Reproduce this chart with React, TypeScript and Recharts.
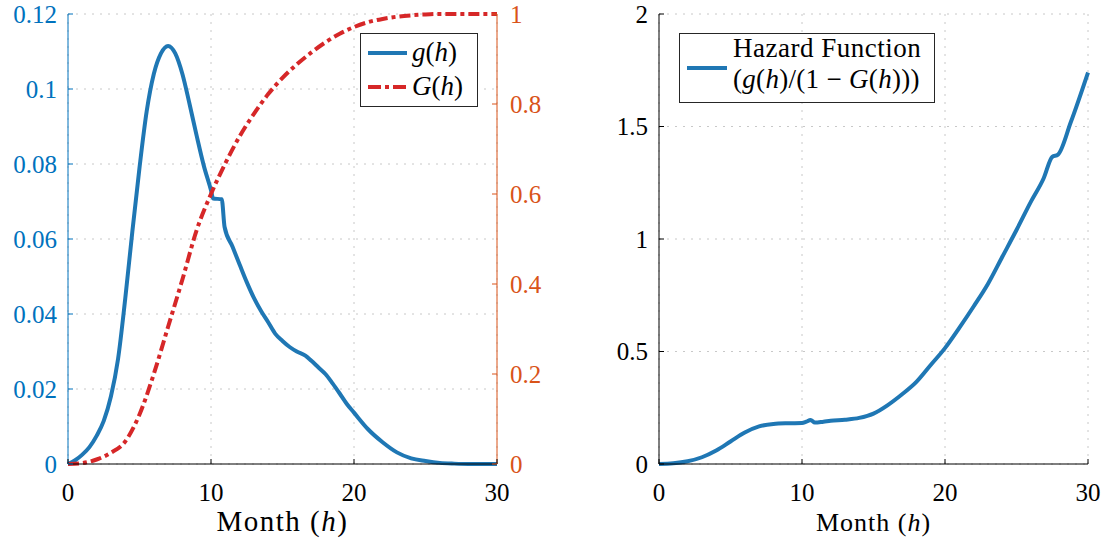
import React from 'react'
import { LineChart, Line, XAxis, YAxis, CartesianGrid, Legend } from 'recharts'

// g(h) — density
const gH = [0, 0.5, 1, 1.5, 2, 2.5, 3, 3.5, 4, 4.5, 5, 5.5, 6, 6.5, 7, 7.5, 8, 8.5, 9, 9.5, 10, 10.15, 10.75, 10.95, 11.5, 12, 12.5, 13, 13.5, 14, 14.5, 15, 15.5, 16, 16.6, 17, 17.5, 18, 18.5, 19, 19.5, 20, 21, 22, 23, 24, 25, 26, 27, 28, 30]
const gVal = [0, 0.001, 0.0025, 0.0045, 0.0075, 0.0115, 0.018, 0.028, 0.044, 0.062, 0.079, 0.094, 0.104, 0.1095, 0.1115, 0.1095, 0.104, 0.096, 0.0875, 0.0795, 0.073, 0.0708, 0.0706, 0.0632, 0.058, 0.0532, 0.0485, 0.0443, 0.0408, 0.0378, 0.0347, 0.0328, 0.0312, 0.03, 0.0289, 0.0276, 0.0258, 0.024, 0.0215, 0.0188, 0.016, 0.0137, 0.0092, 0.0058, 0.0031, 0.0015, 0.0008, 0.0003, 0.0001, 0, 0]

// G(h) — cumulative, right (orange) axis
const cdfH = [0, 1, 2, 3, 4, 5, 6, 7, 8, 9, 10, 11, 12, 13, 14, 15, 16, 17, 18, 19, 20, 21, 22, 23, 24, 25, 26, 30]
const cdfVal = [0, 0.002, 0.01, 0.025, 0.05, 0.11, 0.2, 0.305, 0.41, 0.52, 0.6, 0.668, 0.728, 0.778, 0.822, 0.858, 0.888, 0.914, 0.937, 0.956, 0.971, 0.982, 0.989, 0.994, 0.997, 0.999, 1, 1]

// hazard g/(1-G), right panel
const hazH = [0, 1, 2, 3, 4, 5, 6, 7, 8, 9, 10, 10.3, 10.6, 10.9, 11.5, 12, 13, 14, 15, 16, 17, 18, 19, 20, 21, 22, 23, 24, 25, 26, 26.9, 27.5, 27.9, 28.8, 30]
const hazVal = [0, 0.003, 0.012, 0.03, 0.06, 0.1, 0.14, 0.167, 0.178, 0.181, 0.182, 0.188, 0.196, 0.184, 0.188, 0.192, 0.197, 0.205, 0.224, 0.262, 0.31, 0.365, 0.44, 0.515, 0.605, 0.7, 0.8, 0.92, 1.04, 1.165, 1.27, 1.365, 1.375, 1.52, 1.74]

const xTicks = [0, 10, 20, 30]
const gTicks = [0, 0.02, 0.04, 0.06, 0.08, 0.1, 0.12]
const cdfTicks = [0, 0.2, 0.4, 0.6, 0.8, 1]
const hazTicks = [0, 0.5, 1, 1.5, 2]

const FONT = '"Liberation Serif", "DejaVu Serif", serif'
const BLUE = '#1f77b4'
const RED = '#d62728'
const AX_BLUE = '#0072bd'
const AX_ORANGE = '#d95319'
const TICK_FS = 25

const gData = gH.map((h, i) => ({ h, v: gVal[i] }))
const cdfData = cdfH.map((h, i) => ({ h, v: cdfVal[i] }))
const hazData = hazH.map((h, i) => ({ h, v: hazVal[i] }))

type Side = 'left' | 'right' | 'bottom' | 'top'

const serif = { fontFamily: FONT }

function makeTick(side: Side, color: string, stroke: string, showText = true) {
  return (props: any) => {
    const { x, y, payload } = props
    const label = String(payload.value)
    let line = null
    let txt = null
    if (side === 'bottom') {
      line = <line x1={x} x2={x} y1={y} y2={y - 5} stroke={stroke} />
      if (showText) txt = <text x={x} y={y + 37} textAnchor="middle" style={serif}>{label}</text>
    } else if (side === 'top') {
      line = <line x1={x} x2={x} y1={y} y2={y + 5} stroke={stroke} />
    } else if (side === 'left') {
      line = <line x1={x} x2={x + 5} y1={y} y2={y} stroke={stroke} />
      if (showText) txt = <text x={x - 11} y={y + 8.5} textAnchor="end" style={serif}>{label}</text>
    } else {
      line = <line x1={x} x2={x - 5} y1={y} y2={y} stroke={stroke} />
      if (showText) txt = <text x={x + 13} y={y + 8.5} textAnchor="start" style={serif}>{label}</text>
    }
    return (
      <g fill={color} fontSize={TICK_FS}>
        {line}
        {txt}
      </g>
    )
  }
}

function monthLabel(size: number, spacing: number) {
  return (props: any) => {
    const vb = props.viewBox
    return (
      <text
        x={vb.x + vb.width / 2}
        y={vb.y + 67}
        textAnchor="middle"
        fontSize={size}
        style={{ ...serif, letterSpacing: spacing }}
        fill="#000"
      >
        Month (<tspan fontStyle="italic">h</tspan>)
      </text>
    )
  }
}

function LeftLegend() {
  return (
    <svg width={118} height={74} style={{ display: 'block' }}>
      <rect x={0.5} y={0.5} width={117} height={73} fill="#fff" stroke="#262626" />
      <line x1={8} x2={47} y1={20} y2={20} stroke={BLUE} strokeWidth={4} />
      <text x={52} y={28} fontSize={27} style={serif} fill="#000">
        <tspan fontStyle="italic">g</tspan>(<tspan fontStyle="italic">h</tspan>)
      </text>
      <line x1={8} x2={47} y1={54} y2={54} stroke={RED} strokeWidth={4} strokeDasharray="13 4 4 4" />
      <text x={52} y={62} fontSize={27} style={serif} fill="#000">
        <tspan fontStyle="italic">G</tspan>(<tspan fontStyle="italic">h</tspan>)
      </text>
    </svg>
  )
}

function RightLegend() {
  return (
    <svg width={256} height={70} style={{ display: 'block' }}>
      <rect x={0.5} y={0.5} width={255} height={69} fill="#fff" stroke="#262626" />
      <line x1={8} x2={48} y1={35} y2={35} stroke={BLUE} strokeWidth={4} />
      <text x={54} y={24} fontSize={27} style={{ ...serif, letterSpacing: 0.5 }} fill="#000">Hazard Function</text>
      <text x={54} y={55} fontSize={27} style={{ ...serif, letterSpacing: 0.3 }} fill="#000">
        (<tspan fontStyle="italic">g</tspan>(<tspan fontStyle="italic">h</tspan>)/(1 − <tspan fontStyle="italic">G</tspan>(<tspan fontStyle="italic">h</tspan>)))
      </text>
    </svg>
  )
}

export default function App() {
  return (
    <div style={{ position: 'absolute', left: 0, top: 0, width: 1109, height: 542, background: '#fff', fontFamily: FONT }}>
      <div style={{ position: 'absolute', left: 0, top: 0 }}>
        <LineChart width={557} height={542} margin={{ top: 14, right: 0, bottom: 0, left: 0 }}>
          <CartesianGrid yAxisId="left" stroke="#c8c8c8" strokeDasharray="2 6" />
          <XAxis
            dataKey="h"
            type="number"
            domain={[0, 30]}
            ticks={xTicks}
            interval={0}
            height={78}
            tickSize={0}
            tickMargin={0}
            axisLine={{ stroke: '#000' }}
            tick={makeTick('bottom', '#000', '#000')}
            label={monthLabel(29, 1.5)}
          />
          <XAxis
            xAxisId="top"
            orientation="top"
            dataKey="h"
            type="number"
            domain={[0, 30]}
            ticks={xTicks}
            interval={0}
            height={0}
            tickSize={0}
            tickMargin={0}
            axisLine={{ stroke: '#000' }}
            tick={makeTick('top', '#000', '#000', false)}
          />
          <YAxis
            yAxisId="left"
            type="number"
            domain={[0, 0.12]}
            ticks={gTicks}
            interval={0}
            width={68}
            tickSize={0}
            tickMargin={0}
            axisLine={{ stroke: AX_BLUE }}
            tick={makeTick('left', AX_BLUE, AX_BLUE)}
          />
          <YAxis
            yAxisId="right"
            orientation="right"
            type="number"
            domain={[0, 1]}
            ticks={cdfTicks}
            interval={0}
            width={60}
            tickSize={0}
            tickMargin={0}
            axisLine={{ stroke: AX_ORANGE }}
            tick={makeTick('right', AX_ORANGE, AX_ORANGE)}
          />
          <Line
            yAxisId="left"
            data={gData}
            dataKey="v"
            name="g(h)"
            type="monotone"
            stroke={BLUE}
            strokeWidth={4}
            dot={false}
            isAnimationActive={false}
          />
          <Line
            yAxisId="right"
            data={cdfData}
            dataKey="v"
            name="G(h)"
            type="monotone"
            stroke={RED}
            strokeWidth={4}
            strokeDasharray="11 4 4 4"
            dot={false}
            isAnimationActive={false}
          />
          <Legend
            layout="vertical"
            align="center"
            verticalAlign="middle"
            wrapperStyle={{ left: 360, top: 33, width: 118, height: 74 }}
            content={() => <LeftLegend />}
          />
        </LineChart>
      </div>
      <div style={{ position: 'absolute', left: 560, top: 0 }}>
        <LineChart width={549} height={542} margin={{ top: 14, right: 21, bottom: 0, left: 0 }}>
          <CartesianGrid yAxisId="haz" stroke="#c8c8c8" strokeDasharray="2 6" />
          <XAxis
            dataKey="h"
            type="number"
            domain={[0, 30]}
            ticks={xTicks}
            interval={0}
            height={78}
            tickSize={0}
            tickMargin={0}
            axisLine={{ stroke: '#000' }}
            tick={makeTick('bottom', '#000', '#000')}
            label={monthLabel(26, 1)}
          />
          <XAxis
            xAxisId="top"
            orientation="top"
            dataKey="h"
            type="number"
            domain={[0, 30]}
            ticks={xTicks}
            interval={0}
            height={0}
            tickSize={0}
            tickMargin={0}
            axisLine={{ stroke: '#000' }}
            tick={makeTick('top', '#000', '#000', false)}
          />
          <YAxis
            yAxisId="haz"
            type="number"
            domain={[0, 2]}
            ticks={hazTicks}
            interval={0}
            width={99}
            tickSize={0}
            tickMargin={0}
            axisLine={{ stroke: '#000' }}
            tick={makeTick('left', '#000', '#000')}
          />
          <YAxis
            yAxisId="box"
            orientation="right"
            type="number"
            domain={[0, 2]}
            ticks={hazTicks}
            interval={0}
            width={0}
            tickSize={0}
            tickMargin={0}
            axisLine={{ stroke: '#000' }}
            tick={makeTick('right', '#000', '#000', false)}
          />
          <Line
            yAxisId="haz"
            data={hazData}
            dataKey="v"
            name="Hazard Function"
            type="monotone"
            stroke={BLUE}
            strokeWidth={4}
            dot={false}
            isAnimationActive={false}
          />
          <Legend
            layout="vertical"
            align="center"
            verticalAlign="middle"
            wrapperStyle={{ left: 119, top: 33, width: 256, height: 70 }}
            content={() => <RightLegend />}
          />
        </LineChart>
      </div>
    </div>
  )
}
